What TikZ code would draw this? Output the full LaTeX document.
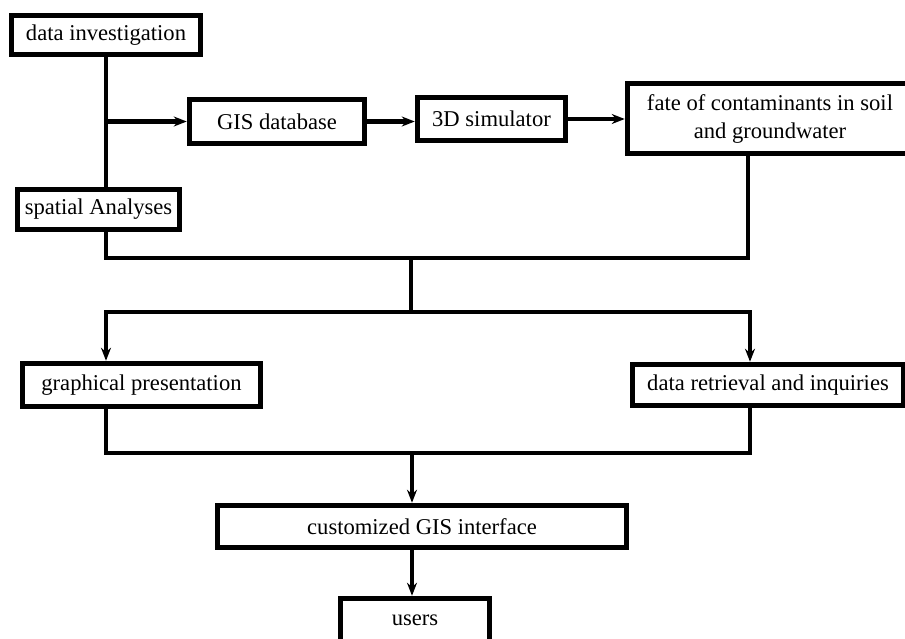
\documentclass[tikz,border=0pt]{standalone}
\usepackage{fontspec}
\setmainfont{Liberation Serif}
\usetikzlibrary{arrows.meta}
\begin{document}
\begin{tikzpicture}[x=1pt,y=-1pt,
  box/.style={draw, line width=5.5pt, inner sep=0pt, align=center,
    font=\fontsize{22.6}{28}\selectfont},
  conn/.style={line width=4.5pt},
  arr/.style={conn, -{Stealth[length=13pt,width=10pt]}}]
\useasboundingbox (0,0) rectangle (905,638);
\clip (0,0) rectangle (905,638);
\node[box, minimum width=189pt, minimum height=39pt] (inv) at (106,35) {data investigation};
\node[box, minimum width=175pt, minimum height=44pt] (gis) at (277,121.5) {GIS database};
\node[box, minimum width=148pt, minimum height=43pt] (sim) at (491.5,119) {3D simulator};
\node[box, minimum width=285pt, minimum height=70pt] (fate) at (770,118.5) {fate of contaminants in soil\\and groundwater};
\node[box, minimum width=162pt, minimum height=40pt] (spa) at (98.5,209.5) {spatial Analyses};
\node[box, minimum width=238pt, minimum height=43pt] (gra) at (141.5,385) {graphical presentation};
\node[box, minimum width=271pt, minimum height=41pt] (ret) at (768,385) {data retrieval and inquiries};
\node[box, minimum width=409pt, minimum height=42pt] (cus) at (422,526.5) {customized GIS interface};
\node[box, minimum width=149pt, minimum height=43pt] (usr) at (415,620) {users};
\coordinate (xl) at (106,0);
\coordinate (xr) at (750,0);
\coordinate (fd) at (748,258);
\coordinate (m1) at (411,258);
\coordinate (m2) at (411,312);
\coordinate (m3) at (412,453);
\draw[conn] (inv.south) -- (inv.south |- spa.north);
\draw[arr] (inv.south |- gis.west) -- (gis.west);
\draw[arr] (gis.east) -- (gis.east -| sim.west);
\draw[arr] (sim.east) -- (sim.east -| fate.west);
\draw[conn] (xl |- spa.south) -- (xl |- fd) -- (fd) -- (fd |- fate.south);
\draw[conn] (m1) -- (m2);
\draw[arr] (m2) -- (xl |- m2) -- (xl |- gra.north);
\draw[arr] (m2) -- (xr |- m2) -- (xr |- ret.north);
\draw[conn] (xl |- gra.south) -- (xl |- m3) -- (xr |- m3) -- (xr |- ret.south);
\draw[arr] (m3) -- (m3 |- cus.north);
\draw[arr] (m3 |- cus.south) -- (m3 |- usr.north);
\end{tikzpicture}
\end{document}
